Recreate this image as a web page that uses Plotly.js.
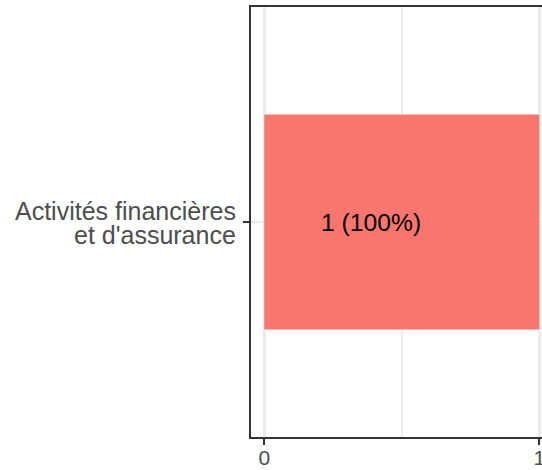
<!DOCTYPE html>
<html>
<head>
<meta charset="utf-8">
<script src="https://cdn.plot.ly/plotly-3.0.1.min.js"></script>
<style>html,body{margin:0;padding:0;background:#fff;overflow:hidden}#chart{width:542px;height:470px}</style>
</head>
<body>
<div id="chart"></div>
<script>
// Data
const categories = ["Activités financières<br>et d'assurance"];
const counts = [1];
const labels = ["1 (100%)"];
const labelPos = [0.387];
const xTickVals = [0, 1];
const xTickText = ["0", "1"];

const font = "Liberation Sans, Arial, Helvetica, sans-serif";

const trace = {
  type: "bar",
  orientation: "h",
  y: categories,
  x: counts,
  width: 0.6,
  marker: {color: "#F8766D", line: {width: 0}},
  hoverinfo: "skip"
};

const annotations = categories.map((c, i) => ({
  x: labelPos[i], y: c, xref: "x", yref: "y",
  text: labels[i], showarrow: false,
  font: {family: font, size: 24.7, color: "#000000"},
  xanchor: "center", yanchor: "middle"
}));

// y-axis category labels, drawn line by line for tighter line spacing
const lineShifts = [11.5, -12.5];
categories.forEach((c) => {
  c.split("<br>").forEach((line, j) => {
    annotations.push({
      x: -0.0481, xref: "paper", y: c, yref: "y",
      text: line, showarrow: false,
      font: {family: font, size: 25, color: "#4D4D4D"},
      xanchor: "right", yanchor: "middle", yshift: lineShifts[j],
      height: 24, valign: "middle",
      borderpad: 0
    });
  });
});

const layout = {
  width: 542, height: 470,
  margin: {l: 251, r: 0, t: 7, b: 33, pad: 0},
  paper_bgcolor: "#ffffff", plot_bgcolor: "#ffffff",
  showlegend: false,
  xaxis: {
    range: [-0.0484, 1.0098],
    tickvals: xTickVals, ticktext: xTickText,
    showgrid: true, gridcolor: "#EBEBEB", gridwidth: 2.5,
    minor: {tickvals: [0.5], showgrid: true, gridcolor: "#EBEBEB", gridwidth: 2, ticks: ""},
    zeroline: false,
    showline: true, linecolor: "#333333", linewidth: 2, mirror: true,
    ticks: "outside", ticklen: 6, tickwidth: 2, tickcolor: "#333333",
    tickfont: {family: font, size: 21, color: "#4D4D4D"},
    ticklabelstandoff: -5,
    ticklabeloverflow: "allow",
    fixedrange: true
  },
  yaxis: {
    type: "category",
    range: [-0.6, 0.6],
    showgrid: true, gridcolor: "#EBEBEB", gridwidth: 2.5,
    zeroline: false,
    showline: true, linecolor: "#333333", linewidth: 2,
    ticks: "outside", ticklen: 6, tickwidth: 2, tickcolor: "#333333",
    showticklabels: false,
    fixedrange: true
  },
  annotations: annotations
};

Plotly.newPlot("chart", [trace], layout, {displayModeBar: false, staticPlot: true});
</script>
</body>
</html>
